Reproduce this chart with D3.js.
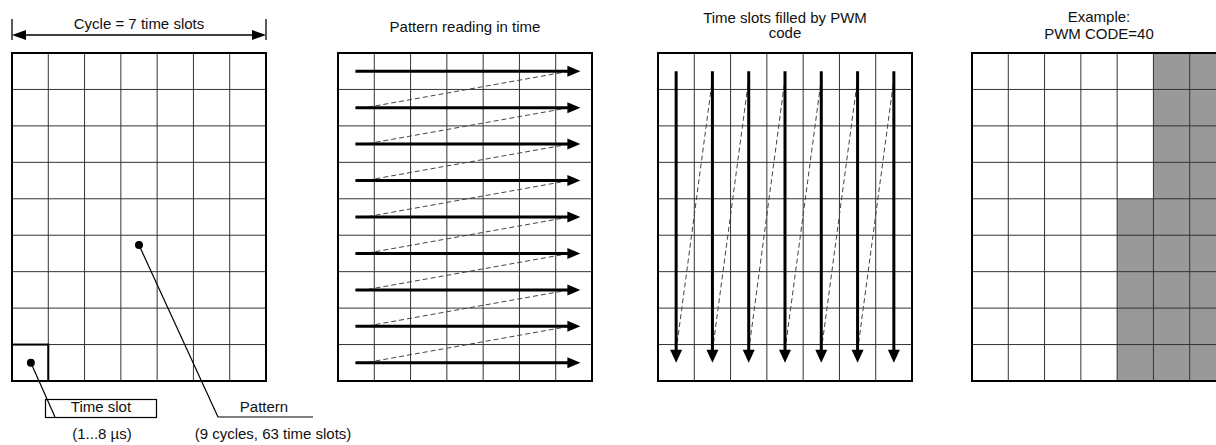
<!DOCTYPE html>
<meta charset="utf-8">
<title>PWM pattern</title>
<style>
body { margin: 0; background: #fff; }
svg { display: block; font-family: "Liberation Sans", Arial, sans-serif; }
</style>
<svg width="1216" height="445"></svg>
<script src="https://d3js.org/d3.v7.min.js"></script>
<script>
  // grid size
  var slotsPerCycle = 7,
    cyclesPerPattern = 9

  var panelTitles = [
    ["Cycle = 7 time slots"],
    ["Pattern reading in time"],
    ["Time slots filled by PWM", "code"],
    ["Example:", "PWM CODE=40"]
  ]
  var titleBaselines = [[29], [32], [23, 38], [22, 39]]

  // example panel: first shaded row of each column (9 = none)
  var shadedFromRow = [9, 9, 9, 9, 4, 0, 0]

  // callouts on the first panel, anchors in grid units (col, row)
  var calloutNames = ["Time slot", "Pattern"]
  var calloutNotes = ["(1...8 µs)", "(9 cycles, 63 time slots)"]
  var calloutAnchors = [[0.52, 8.5], [3.5, 5.27]]

  var svg = d3.select("svg"),
    panelLeft = [12, 338, 658, 972],
    gridW = 254,
    gridTop = 53,
    gridBottom = 381

  var y = d3.scaleLinear().domain([0, cyclesPerPattern]).range([gridTop, gridBottom])

  function xScale(i) {
    return d3.scaleLinear().domain([0, slotsPerCycle]).range([panelLeft[i], panelLeft[i] + gridW])
  }

  function drawGrid(g, x) {
    g.append("g").attr("stroke", "#333").attr("stroke-width", 1)
      .selectAll("line.v").data(d3.range(1, slotsPerCycle)).join("line")
        .attr("x1", (d) => x(d)).attr("x2", (d) => x(d))
        .attr("y1", y(0)).attr("y2", y(cyclesPerPattern))
    g.append("g").attr("stroke", "#333").attr("stroke-width", 1)
      .selectAll("line.h").data(d3.range(1, cyclesPerPattern)).join("line")
        .attr("y1", (d) => y(d)).attr("y2", (d) => y(d))
        .attr("x1", x(0)).attr("x2", x(slotsPerCycle))
    g.append("rect")
      .attr("x", x(0)).attr("y", y(0))
      .attr("width", x(slotsPerCycle) - x(0)).attr("height", y(cyclesPerPattern) - y(0))
      .attr("fill", "none").attr("stroke", "#000").attr("stroke-width", 2)
  }

  function arrowHead(tx, ty, dir, len, half) {
    // dir: "r" right, "l" left, "d" down
    if (dir == "r") return "M" + tx + "," + ty + "L" + (tx - len) + "," + (ty - half) + "L" + (tx - len) + "," + (ty + half) + "Z"
    if (dir == "l") return "M" + tx + "," + ty + "L" + (tx + len) + "," + (ty - half) + "L" + (tx + len) + "," + (ty + half) + "Z"
    return "M" + tx + "," + ty + "L" + (tx - half) + "," + (ty - len) + "L" + (tx + half) + "," + (ty - len) + "Z"
  }

  // titles
  panelTitles.forEach(function(lines, i) {
    var x = xScale(i)
    svg.append("g").selectAll("text").data(lines).join("text")
      .attr("x", (x(0) + x(slotsPerCycle)) / 2)
      .attr("y", (d, k) => titleBaselines[i][k])
      .attr("text-anchor", "middle")
      .attr("font-size", "15px")
      .attr("fill", "#111")
      .text((d) => d)
  })

  // ---- panel 1: cycle / time slot / pattern
  var x0 = xScale(0), p0 = svg.append("g")
  drawGrid(p0, x0)
  p0.append("rect")
    .attr("x", x0(0)).attr("y", y(cyclesPerPattern - 1))
    .attr("width", x0(1) - x0(0)).attr("height", y(1) - y(0))
    .attr("fill", "none").attr("stroke", "#000").attr("stroke-width", 2)

  var cy = 35
  p0.append("line").attr("x1", x0(0) + 10).attr("x2", x0(slotsPerCycle) - 10)
    .attr("y1", cy).attr("y2", cy).attr("stroke", "#000").attr("stroke-width", 1.3)
  p0.append("path").attr("d", arrowHead(x0(0), cy, "l", 14, 5))
  p0.append("path").attr("d", arrowHead(x0(slotsPerCycle), cy, "r", 14, 5))
  p0.selectAll("line.tick").data([0, slotsPerCycle]).join("line")
    .attr("x1", (d) => x0(d)).attr("x2", (d) => x0(d))
    .attr("y1", 19).attr("y2", 40)
    .attr("stroke", "#000").attr("stroke-width", 1.3)

  // callouts
  var leaderEnds = [[55, 417], [218, 417]]
  calloutAnchors.forEach(function(a, i) {
    var ax = x0(a[0]), ay = y(a[1])
    p0.append("circle").attr("cx", ax).attr("cy", ay).attr("r", 4).attr("fill", "#000")
    p0.append("line").attr("x1", ax).attr("y1", ay)
      .attr("x2", leaderEnds[i][0]).attr("y2", leaderEnds[i][1])
      .attr("stroke", "#000").attr("stroke-width", 1.2)
  })
  p0.append("rect").attr("x", 45.5).attr("y", 399.5).attr("width", 111).attr("height", 18)
    .attr("fill", "none").attr("stroke", "#000").attr("stroke-width", 1.2)
  p0.append("line").attr("x1", 218).attr("x2", 313).attr("y1", 417).attr("y2", 417)
    .attr("stroke", "#000").attr("stroke-width", 1.2)
  var nameX = [101, 264], noteX = [102, 273]
  p0.selectAll("text.name").data(calloutNames).join("text")
    .attr("x", (d, i) => nameX[i]).attr("y", 412)
    .attr("text-anchor", "middle").attr("font-size", "15px").attr("fill", "#111")
    .text((d) => d)
  p0.selectAll("text.note").data(calloutNotes).join("text")
    .attr("x", (d, i) => noteX[i]).attr("y", 439)
    .attr("text-anchor", "middle").attr("font-size", "15px").attr("fill", "#111")
    .text((d) => d)

  // ---- panel 2: reading rows left to right
  var x1 = xScale(1), p1 = svg.append("g")
  drawGrid(p1, x1)
  var rows = d3.range(cyclesPerPattern)
  var hStart = x1(0.48), hTip = x1(6.68)
  p1.append("g").attr("stroke", "#444").attr("stroke-width", 1).attr("stroke-dasharray", "5,3")
    .selectAll("line").data(rows.slice(0, -1)).join("line")
      .attr("x1", hTip - 11).attr("y1", (d) => y(d + 0.5))
      .attr("x2", hStart + 10).attr("y2", (d) => y(d + 1.5))
  p1.append("g").attr("stroke", "#000").attr("stroke-width", 3)
    .selectAll("line").data(rows).join("line")
      .attr("x1", hStart).attr("x2", hTip - 12)
      .attr("y1", (d) => y(d + 0.5)).attr("y2", (d) => y(d + 0.5))
  p1.append("g").selectAll("path").data(rows).join("path")
    .attr("d", (d) => arrowHead(hTip, y(d + 0.5), "r", 13, 5.5))

  // ---- panel 3: filling columns top to bottom
  var x2 = xScale(2), p2 = svg.append("g")
  drawGrid(p2, x2)
  var cols = d3.range(slotsPerCycle)
  var vStart = y(0.5), vTip = y(8.5)
  p2.append("g").attr("stroke", "#444").attr("stroke-width", 1).attr("stroke-dasharray", "5,3")
    .selectAll("line").data(cols.slice(0, -1)).join("line")
      .attr("x1", (d) => x2(d + 0.5)).attr("y1", vTip - 12)
      .attr("x2", (d) => x2(d + 1.5)).attr("y2", vStart + 8)
  p2.append("g").attr("stroke", "#000").attr("stroke-width", 3)
    .selectAll("line").data(cols).join("line")
      .attr("x1", (d) => x2(d + 0.5)).attr("x2", (d) => x2(d + 0.5))
      .attr("y1", vStart).attr("y2", vTip - 12)
  p2.append("g").selectAll("path").data(cols).join("path")
    .attr("d", (d) => arrowHead(x2(d + 0.5), vTip, "d", 13, 6))

  // ---- panel 4: example PWM code
  var x3 = xScale(3), p3 = svg.append("g")
  p3.selectAll("rect.cell").data(shadedFromRow).join("rect")
    .attr("x", (d, i) => x3(i)).attr("width", x3(1) - x3(0))
    .attr("y", (d) => y(d)).attr("height", (d) => y(cyclesPerPattern) - y(d))
    .attr("fill", "#999")
  drawGrid(p3, x3)
</script>
